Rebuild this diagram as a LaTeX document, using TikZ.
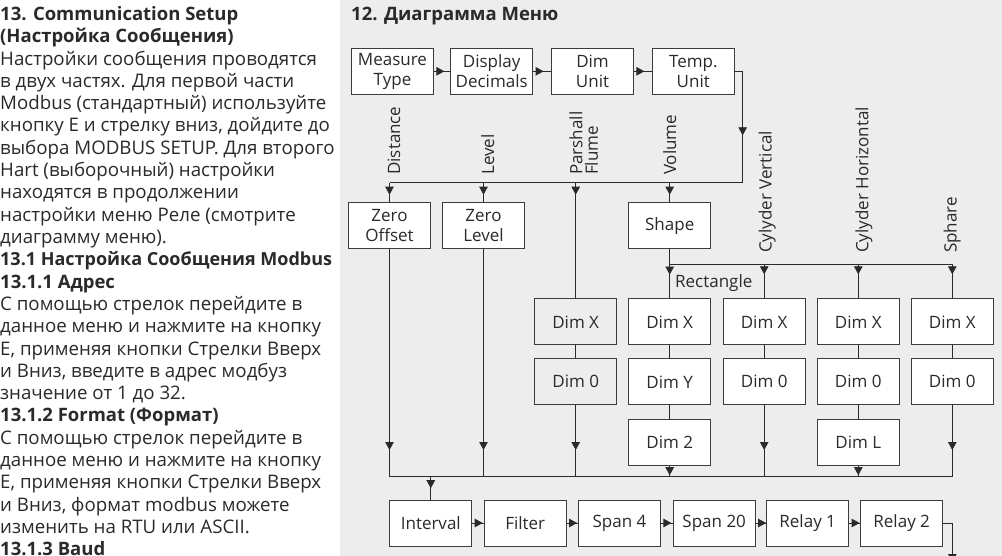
\documentclass[tikz,border=0pt]{standalone}
\usepackage{fontspec}
\setmainfont{Open Sans}
\usetikzlibrary{arrows.meta,decorations.markings}
\definecolor{bg}{HTML}{EDEDED}
\definecolor{ink}{HTML}{2A2A2A}
\definecolor{boxc}{HTML}{3C3C3C}
\tikzset{
  tipA/.tip={Triangle[length=8pt,width=8.5pt]},
  box/.style={draw=boxc, fill=white, line width=0.8pt, minimum width=82pt, minimum height=46pt, inner sep=0pt, align=center},
  gbox/.style={box, fill=bg},
  conn/.style={draw=ink, line width=0.8pt},
  tipat/.style={conn, postaction={decorate, decoration={markings, mark=at position #1 with {\arrow{tipA}}}}},
  lab/.style={rotate=90, anchor=base west, inner sep=0pt},
  txt/.style={anchor=base west, inner sep=0pt},
  body/.style={txt, font=\fontsize{18.7}{22}\selectfont},
}
\begin{document}
\begin{tikzpicture}[x=1pt, y=-1pt, font=\fontsize{17}{20.5}\selectfont, color=ink]
\fill[white] (0,0) rectangle (1002,556);
\fill[bg] (340,0) rectangle (1002,556);
\useasboundingbox (0,0) rectangle (1002,556);

% left column text
\foreach \t [count=\i from 0] in {
 {\fontsize{18.5}{22}\selectfont\bfseries 13. Communication Setup},
 {\fontsize{18.5}{22}\selectfont\bfseries (Настройка Сообщения)},
 {Настройки сообщения проводятся},
 {в двух частях. Для первой части},
 {Modbus (стандартный) используйте},
 {кнопку Е и стрелку вниз, дойдите до},
 {выбора MODBUS SETUP. Для второго},
 {Hart (выборочный) настройки},
 {находятся в продолжении},
 {настройки меню Реле (смотрите},
 {диаграмму меню).},
 {\fontsize{18}{22}\selectfont\bfseries 13.1 Настройка Сообщения Modbus},
 {\fontsize{18.5}{22}\selectfont\bfseries 13.1.1 Адрес},
 {С помощью стрелок перейдите в},
 {данное меню и нажмите на кнопку},
 {Е, применяя кнопки Стрелки Вверх},
 {и Вниз, введите в адрес модбуз},
 {значение от 1 до 32.},
 {\fontsize{18.5}{22}\selectfont\bfseries 13.1.2 Format (Формат)},
 {С помощью стрелок перейдите в},
 {данное меню и нажмите на кнопку},
 {Е, применяя кнопки Стрелки Вверх},
 {и Вниз, формат modbus можете},
 {изменить на RTU или ASCII.},
 {\fontsize{18.5}{22}\selectfont\bfseries 13.1.3 Baud}}
 \node[body] (L\i) at (0, 20.5+\i*22.3) {\t};

% title
\node[txt, font=\fontsize{18.5}{22}\selectfont\bfseries] (title) at (351,21) {12. Диаграмма Меню};

% top row
\node[box] (M) at (392.5,71.3) {Measure\\Type};
\node[box] (D) at (491.7,71.3) {Display\\Decimals};
\node[box] (U) at (592.5,71.3) {Dim\\Unit};
\node[box] (T) at (693.3,71.3) {Temp.\\Unit};

% rotated labels
\node[lab] (tDist) at (400,175) {Distance};
\node[lab] (tLev) at (494,175) {Level};
\node[rotate=90, anchor=south west, inner sep=0pt, align=left, font=\fontsize{17}{15.6}\selectfont] (tPar) at (598.3,175) {Parshall\\Flume};
\node[lab] (tVol) at (676,175) {Volume};
\node[lab] (tCV) at (771.7,253) {Cylyder Vertical};
\node[lab] (tCH) at (868.3,253) {Cylyder Horizontal};
\node[lab] (tSph) at (956.7,253) {Sphare};
\node[txt] (tRect) at (675,287.3) {Rectangle};

% second row
\node[box] (ZO) at (389.5,225.7) {Zero\\Offset};
\node[box] (ZL) at (483.5,225.7) {Zero\\Level};
\node[box] (SH) at (669.7,225.7) {Shape};

% dim rows
\node[gbox] (P1) at (575.7,321.85) {Dim X};
\node[gbox] (P2) at (575.7,381.8) {Dim 0};
\node[box] (R1) at (669.7,321.85) {Dim X};
\node[box] (R2) at (669.7,381.8) {Dim Y};
\node[box] (R3) at (669.7,442.65) {Dim 2};
\node[box] (V1) at (764.2,321.85) {Dim X};
\node[box] (V2) at (764.2,381.8) {Dim 0};
\node[box] (H1) at (858.3,321.85) {Dim X};
\node[box] (H2) at (858.3,381.8) {Dim 0};
\node[box] (H3) at (858.3,442.65) {Dim L};
\node[box] (S1) at (952.3,321.85) {Dim X};
\node[box] (S2) at (952.3,381.8) {Dim 0};

% bottom row
\node[box] (I) at (430.8,523) {Interval};
\node[box] (F) at (525.2,523) {Filter};
\node[box] (S4) at (619.5,523) {Span 4};
\node[box] (S20) at (714.2,523) {Span 20};
\node[box] (Re1) at (807.7,523) {Relay 1};
\node[box] (Re2) at (901.7,523) {Relay 2};

% bus coordinates
\coordinate (busL) at (389.5,182.7);
\coordinate (busR) at (742.7,182.7);
\coordinate (sbL) at (669.7,264.3);
\coordinate (sbR) at (952.3,264.3);
\coordinate (bbL) at (389.5,476.7);
\coordinate (bbR) at (952.3,476.7);
\coordinate (out) at (952.3,562);

% top row arrows
\draw[tipat=10.5pt] (M.east) -- (D.west);
\draw[tipat=10.5pt] (D.east) -- (U.west);
\draw[tipat=10.5pt] (U.east) -- (T.west);
\draw[tipat=72pt] (T.east) -| (busR) -- (busL);

% drops from top bus
\draw[tipat=12pt] (ZO.north |- busL) -- (ZO.north);
\draw[tipat=12pt] (ZL.north |- busL) -- (ZL.north);
\draw[tipat=12pt] (P1.north |- busL) -- (P1.north);
\draw[tipat=12pt] (SH.north |- busL) -- (SH.north);

% shape bus
\draw[tipat=25.5pt] (SH.south) -- (R1.north);
\draw[conn] (sbL) -- (sbR);
\draw[tipat=10pt] (V1.north |- sbL) -- (V1.north);
\draw[tipat=10pt] (H1.north |- sbL) -- (H1.north);
\draw[tipat=10pt] (S1.north |- sbL) -- (S1.north);

% plain links
\draw[conn] (P1) -- (P2);
\draw[conn] (R1) -- (R2);
\draw[conn] (R2) -- (R3);
\draw[conn] (V1) -- (V2);
\draw[conn] (H1) -- (H2);
\draw[conn] (H2) -- (H3);
\draw[conn] (S1) -- (S2);

% drops to bottom bus
\draw[tipat=-26.7pt] (ZO.south) -- (ZO.south |- bbL);
\draw[tipat=-26.7pt] (ZL.south) -- (ZL.south |- bbL);
\draw[tipat=-26.7pt] (P2.south) -- (P2.south |- bbL);
\draw[tipat=-1.5pt] (R3.south) -- (R3.south |- bbL);
\draw[tipat=-26.7pt] (V2.south) -- (V2.south |- bbL);
\draw[tipat=-1.5pt] (H3.south) -- (H3.south |- bbL);
\draw[tipat=-26.7pt] (S2.south) -- (S2.south |- bbL);
\draw[conn] (bbL) -- (bbR);
\draw[tipat=11.5pt] (I.north |- bbL) -- (I.north);

% bottom row arrows
\draw[tipat=10.5pt] (I.east) -- (F.west);
\draw[tipat=10.5pt] (F.east) -- (S4.west);
\draw[tipat=10.5pt] (S4.east) -- (S20.west);
\draw[tipat=10.5pt] (S20.east) -- (Re1.west);
\draw[tipat=10.5pt] (Re1.east) -- (Re2.west);
\draw[conn, -{tipA}] (Re2.east) -| (out);
\end{tikzpicture}
\end{document}
